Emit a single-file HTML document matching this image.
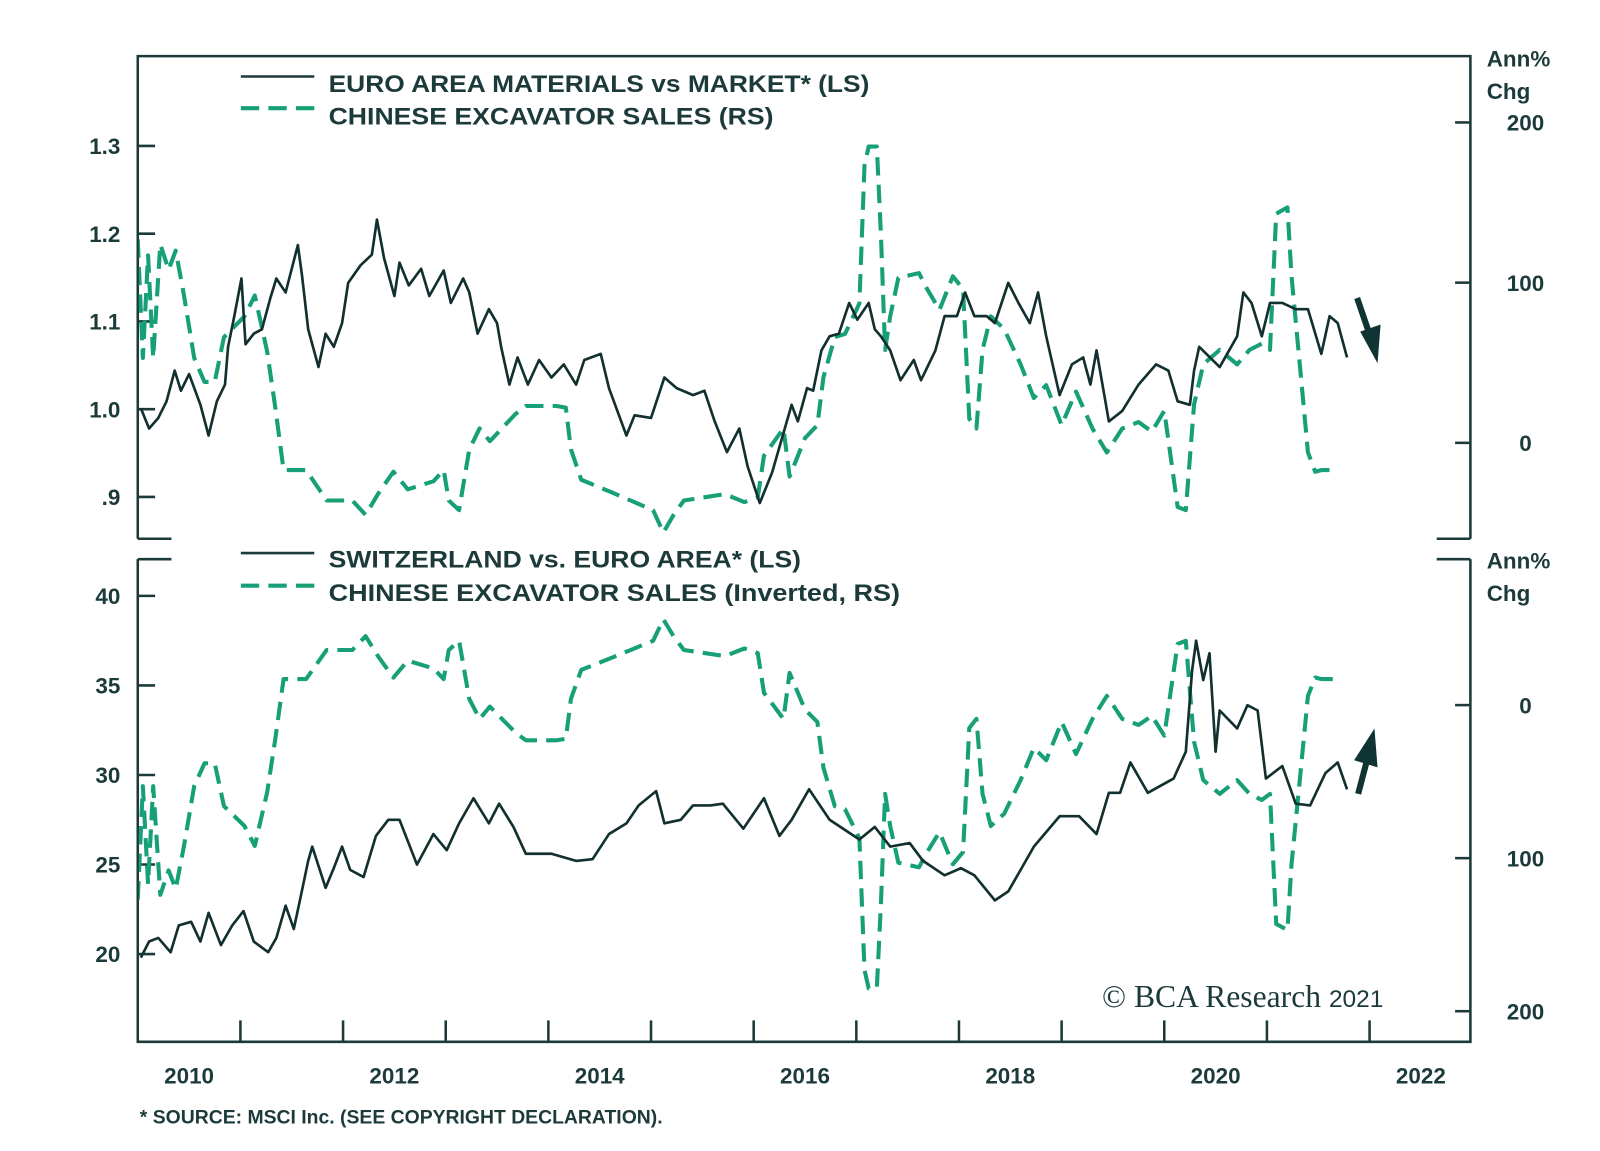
<!DOCTYPE html>
<html><head><meta charset="utf-8"><style>
html,body{margin:0;padding:0;background:#fff;}
svg{display:block;font-family:"Liberation Sans",sans-serif;}
</style></head><body>
<svg id="chart" width="1600" height="1151" viewBox="0 0 1568 1128">
<defs>
<clipPath id="clipTop"><rect x="136" y="56" width="1304" height="471"/></clipPath>
<clipPath id="clipBot"><rect x="136" y="549" width="1304" height="471"/></clipPath>
</defs>
<g id="frame" stroke="#1d3a3a" stroke-width="2.5" fill="none">
<path d="M135,528 V55 H1441 V528"/>
<path d="M135,528 H168 M1408,528 H1441"/>
<path d="M135,548 H168 M1408,548 H1441 M135,548 V1021 H1441 V548"/>
</g>
<g id="axes"></g>
<g id="series"></g>
<g id="legend" font-weight="bold" fill="#1d3a3a" font-size="24">
<line x1="236" y1="75" x2="308" y2="75" stroke="#1d3a3a" stroke-width="2.5"/>
<text x="322" y="90" textLength="530" lengthAdjust="spacingAndGlyphs">EURO AREA MATERIALS vs MARKET* (LS)</text>
<line x1="236" y1="106" x2="308" y2="106" stroke="#17a077" stroke-width="4" stroke-dasharray="18,9"/>
<text x="322" y="122" textLength="436" lengthAdjust="spacingAndGlyphs">CHINESE EXCAVATOR SALES (RS)</text>
<line x1="236" y1="542" x2="308" y2="542" stroke="#1d3a3a" stroke-width="2.5"/>
<text x="322" y="556" textLength="463" lengthAdjust="spacingAndGlyphs">SWITZERLAND vs. EURO AREA* (LS)</text>
<line x1="236" y1="574" x2="308" y2="574" stroke="#17a077" stroke-width="4" stroke-dasharray="18,9"/>
<text x="322" y="589" textLength="560" lengthAdjust="spacingAndGlyphs">CHINESE EXCAVATOR SALES (Inverted, RS)</text>
</g>
<g fill="#1d3a3a" font-weight="bold" font-size="22">
<text x="1457" y="65">Ann%</text>
<text x="1457" y="97">Chg</text>
<text x="1457" y="557">Ann%</text>
<text x="1457" y="589">Chg</text>
<text x="137" y="1101" font-size="19">* SOURCE: MSCI Inc. (SEE COPYRIGHT DECLARATION).</text>
</g>
<text x="1080" y="987" font-family="Liberation Serif,serif" font-size="31" fill="#1d3a3a">© BCA Research <tspan font-family="Liberation Sans,sans-serif" font-size="24">2021</tspan></text>
<g fill="#0f3433" stroke="#0f3433">
<line x1="1330" y1="292" x2="1343" y2="330" stroke-width="6"/>
<polygon points="1333,325 1353,318 1350,356" stroke="none"/>
<line x1="1331" y1="778" x2="1341" y2="740" stroke-width="6"/>
<polygon points="1327,745 1350,752 1347,714" stroke="none"/>
</g>
</svg>
<script>
const matDates=[2010.03,2010.11,2010.20,2010.28,2010.36,2010.42,2010.50,2010.61,2010.69,2010.77,2010.85,2010.88,2010.94,2011.01,2011.05,2011.13,2011.21,2011.29,2011.35,2011.44,2011.56,2011.60,2011.66,2011.76,2011.83,2011.91,2011.99,2012.05,2012.17,2012.28,2012.33,2012.40,2012.50,2012.55,2012.64,2012.76,2012.84,2012.98,2013.05,2013.17,2013.23,2013.31,2013.42,2013.50,2013.54,2013.62,2013.70,2013.80,2013.91,2014.03,2014.15,2014.27,2014.35,2014.51,2014.59,2014.76,2014.84,2015.00,2015.13,2015.25,2015.41,2015.52,2015.62,2015.74,2015.86,2015.94,2016.06,2016.18,2016.37,2016.43,2016.52,2016.58,2016.66,2016.74,2016.83,2016.93,2017.01,2017.12,2017.18,2017.24,2017.33,2017.43,2017.56,2017.63,2017.77,2017.86,2017.98,2018.06,2018.15,2018.27,2018.35,2018.48,2018.58,2018.69,2018.77,2018.85,2018.98,2019.10,2019.21,2019.28,2019.34,2019.46,2019.59,2019.75,2019.92,2020.04,2020.13,2020.25,2020.29,2020.34,2020.54,2020.71,2020.77,2020.85,2020.95,2021.03,2021.15,2021.28,2021.40,2021.53,2021.61,2021.69,2021.78];
const matValues=[1.001,0.978,0.990,1.009,1.044,1.021,1.040,1.005,0.970,1.009,1.028,1.071,1.106,1.149,1.074,1.086,1.091,1.126,1.149,1.133,1.187,1.152,1.091,1.048,1.086,1.071,1.098,1.144,1.164,1.176,1.216,1.172,1.129,1.167,1.141,1.160,1.129,1.158,1.121,1.149,1.133,1.086,1.114,1.098,1.071,1.028,1.059,1.028,1.056,1.036,1.051,1.028,1.056,1.063,1.024,0.970,0.993,0.990,1.036,1.024,1.016,1.021,0.986,0.951,0.978,0.935,0.893,0.928,1.005,0.986,1.024,1.021,1.067,1.083,1.086,1.121,1.102,1.121,1.091,1.083,1.067,1.033,1.056,1.033,1.067,1.106,1.106,1.133,1.106,1.106,1.098,1.144,1.121,1.098,1.133,1.083,1.016,1.051,1.059,1.028,1.067,0.986,0.998,1.028,1.051,1.044,1.009,1.005,1.044,1.071,1.048,1.083,1.133,1.121,1.083,1.121,1.121,1.114,1.114,1.063,1.106,1.098,1.059];
const excDates=[2010.00,2010.05,2010.10,2010.15,2010.22,2010.30,2010.37,2010.45,2010.55,2010.65,2010.75,2010.84,2011.04,2011.14,2011.26,2011.34,2011.42,2011.64,2011.84,2012.09,2012.22,2012.34,2012.49,2012.63,2012.88,2012.98,2013.03,2013.13,2013.23,2013.33,2013.43,2013.68,2013.78,2014.08,2014.17,2014.22,2014.32,2014.62,2015.02,2015.12,2015.22,2015.32,2015.72,2015.91,2016.04,2016.10,2016.29,2016.35,2016.50,2016.62,2016.68,2016.79,2016.89,2017.03,2017.08,2017.12,2017.20,2017.24,2017.28,2017.33,2017.41,2017.61,2017.69,2017.81,2017.94,2018.04,2018.10,2018.17,2018.23,2018.31,2018.44,2018.60,2018.73,2018.85,2019.00,2019.14,2019.30,2019.44,2019.59,2019.75,2019.88,2020.00,2020.13,2020.21,2020.29,2020.38,2020.54,2020.71,2020.83,2020.95,2021.03,2021.09,2021.20,2021.24,2021.32,2021.40,2021.47,2021.53,2021.65];
const excValues=[127,53,117,53,124,108,120,92,53,38,38,66,79,92,57,22,-17,-17,-36,-36,-45,-32,-18,-29,-24,-17,-36,-42,-4,9,1,18,23,23,22,-4,-23,-31,-42,-56,-45,-36,-32,-37,-34,-8,9,-21,3,11,41,66,68,87,173,185,185,130,58,79,103,106,96,83,104,96,15,9,58,79,71,49,28,36,11,32,9,-6,9,13,7,20,-40,-42,24,49,58,49,58,62,58,143,147,104,49,-6,-18,-17,-17];
const swDates=[2010.03,2010.11,2010.20,2010.32,2010.40,2010.52,2010.61,2010.69,2010.81,2010.92,2011.03,2011.13,2011.27,2011.35,2011.44,2011.52,2011.58,2011.66,2011.70,2011.83,2011.91,2011.99,2012.07,2012.20,2012.32,2012.44,2012.55,2012.72,2012.88,2013.01,2013.13,2013.27,2013.42,2013.52,2013.66,2013.78,2014.03,2014.27,2014.43,2014.59,2014.76,2014.88,2015.05,2015.13,2015.29,2015.41,2015.58,2015.70,2015.90,2016.10,2016.25,2016.37,2016.54,2016.74,2017.03,2017.18,2017.33,2017.52,2017.65,2017.86,2018.02,2018.15,2018.35,2018.48,2018.60,2018.73,2018.98,2019.17,2019.34,2019.46,2019.57,2019.67,2019.84,2020.09,2020.21,2020.27,2020.31,2020.38,2020.44,2020.50,2020.54,2020.71,2020.81,2020.91,2020.99,2021.15,2021.28,2021.42,2021.57,2021.69,2021.78];
const swValues=[19.8,20.7,20.9,20.1,21.6,21.8,20.7,22.3,20.5,21.6,22.4,20.7,20.1,20.9,22.7,21.4,23.0,25.2,26.0,23.7,24.8,26.0,24.7,24.3,26.6,27.5,27.5,25.0,26.7,25.8,27.3,28.7,27.3,28.4,27.1,25.6,25.6,25.2,25.3,26.7,27.3,28.3,29.1,27.3,27.5,28.3,28.3,28.4,27.0,28.7,26.6,27.5,29.2,27.5,26.4,27.1,26.0,26.2,25.2,24.4,24.8,24.4,23.0,23.5,24.7,26.0,27.7,27.7,26.7,29.0,29.0,30.7,29.0,29.8,31.3,35.8,37.5,35.3,36.8,31.3,33.6,32.6,33.9,33.6,29.8,30.5,28.4,28.3,30.1,30.7,29.2];
const yearLabels=["2010","2012","2014","2016","2018","2020","2022"];
const topLeftTicks=[1.3,1.2,1.1,1.0,0.9];
const topLeftLabels=["1.3","1.2","1.1","1.0",".9"];
const topRightTicks=[200,100,0];
const botLeftTicks=[40,35,30,25,20];
const botRightTicks=[0,100,200];

const NS="http://www.w3.org/2000/svg";
const xScale=t=>135+(t-2010)*100.6;
const yTopL=v=>401-(v-1.0)*860;
const yTopR=v=>434-v*1.57;
const yBotL=v=>935-(v-20)*17.55;
const yBotR=v=>691+v*1.5;
function mk(tag,attrs,parent){const e=document.createElementNS(NS,tag);for(const k in attrs)e.setAttribute(k,attrs[k]);parent.appendChild(e);return e;}
const axes=document.getElementById('axes');
const series=document.getElementById('series');
const C="#1d3a3a";
function label(x,y,txt,anchor,name){const t=mk('text',{x:x,y:y,'text-anchor':anchor,'font-size':22,'font-weight':'bold',fill:C},axes);t.textContent=txt;

}
topLeftTicks.forEach((v,i)=>{const y=yTopL(v);
const l=mk('line',{x1:135,x2:152,y1:y,y2:y,stroke:C,'stroke-width':2.5},axes);


label(118,y+8,topLeftLabels[i],'end','top-left-tick-label');});
topRightTicks.forEach(v=>{const y=yTopR(v);
const l=mk('line',{x1:1426,x2:1441,y1:y,y2:y,stroke:C,'stroke-width':2.5},axes);


label(1495,y+8,String(v),'middle','top-right-tick-label');});
botLeftTicks.forEach(v=>{const y=yBotL(v);
const l=mk('line',{x1:135,x2:152,y1:y,y2:y,stroke:C,'stroke-width':2.5},axes);


label(118,y+8,String(v),'end','bottom-left-tick-label');});
botRightTicks.forEach(v=>{const y=yBotR(v);
const l=mk('line',{x1:1426,x2:1441,y1:y,y2:y,stroke:C,'stroke-width':2.5},axes);


label(1495,y+8,String(v),'middle','bottom-right-tick-label');});
for(let yr=2011;yr<=2022;yr++){const x=xScale(yr);
const l=mk('line',{x1:x,x2:x,y1:1000,y2:1021,stroke:C,'stroke-width':2.5},axes);

}
yearLabels.forEach(s=>{label(xScale(+s+0.5),1062,s,'middle','x-tick-label');});
function path(dates,vals,ys,clip,stroke,w,dash,name){
let d='';dates.forEach((t,i)=>{d+=(i?'L':'M')+xScale(t).toFixed(1)+','+ys(vals[i]).toFixed(1);});
const p=mk('path',{d:d,fill:'none',stroke:stroke,'stroke-width':w,'stroke-linejoin':'round','clip-path':'url(#'+clip+')'},series);
if(dash)p.setAttribute('stroke-dasharray',dash);

}
path(excDates,excValues,yTopR,'clipTop','#17a077',4,'18,9','excavator-sales-line');
path(matDates,matValues,yTopL,'clipTop','#12302f',2.6,null,'materials-vs-market-line');
path(excDates,excValues,yBotR,'clipBot','#17a077',4,'18,9','excavator-sales-inverted-line');
path(swDates,swValues,yBotL,'clipBot','#12302f',2.6,null,'switzerland-vs-euro-line');
</script>
</body></html>
